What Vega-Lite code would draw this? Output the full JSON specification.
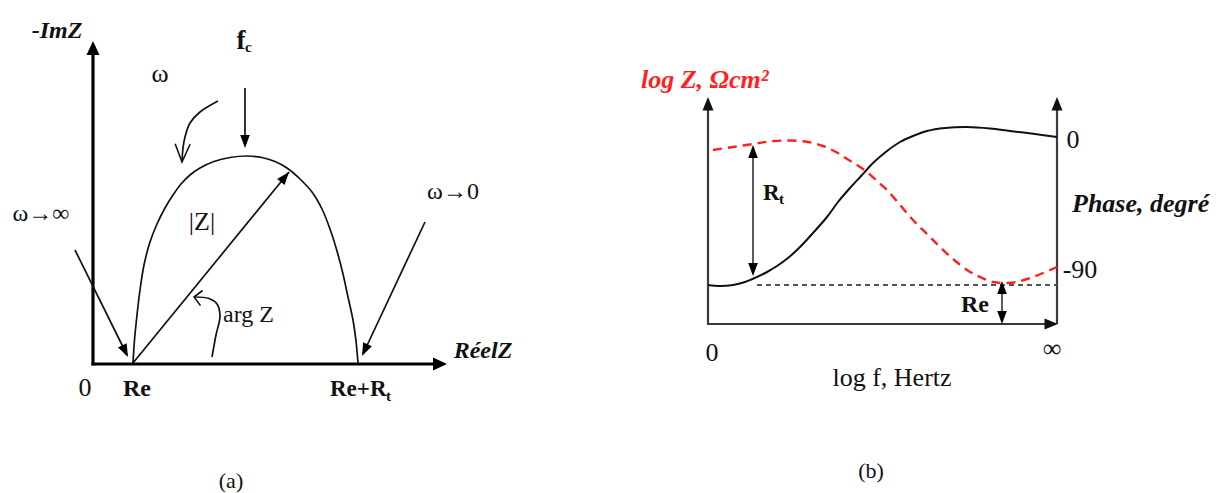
{
  "$schema": "https://vega.github.io/schema/vega-lite/v6.json",
  "width": 1230,
  "height": 493,
  "autosize": {"type": "fit", "contains": "padding"},
  "padding": 0,
  "background": "white",
  "config": {"view": {"stroke": null}, "text": {"font": "Liberation Serif"}},
  "datasets": {
    "axesA": [
      {"seg": "imag", "i": 0, "x": 93, "y": 365.5},
      {"seg": "imag", "i": 1, "x": 93, "y": 55},
      {"seg": "real", "i": 0, "x": 91.5, "y": 364},
      {"seg": "real", "i": 1, "x": 434, "y": 364}
    ],
    "inkA": [
      {"seg": "arc", "i": 0, "x": 133, "y": 363},
      {"seg": "arc", "i": 1, "x": 134.5, "y": 340},
      {"seg": "arc", "i": 2, "x": 137, "y": 315},
      {"seg": "arc", "i": 3, "x": 140, "y": 290},
      {"seg": "arc", "i": 4, "x": 144, "y": 265},
      {"seg": "arc", "i": 5, "x": 150, "y": 242},
      {"seg": "arc", "i": 6, "x": 157, "y": 224},
      {"seg": "arc", "i": 7, "x": 165, "y": 208},
      {"seg": "arc", "i": 8, "x": 173, "y": 195},
      {"seg": "arc", "i": 9, "x": 181, "y": 184},
      {"seg": "arc", "i": 10, "x": 190, "y": 175},
      {"seg": "arc", "i": 11, "x": 200, "y": 168},
      {"seg": "arc", "i": 12, "x": 214, "y": 161.5},
      {"seg": "arc", "i": 13, "x": 230, "y": 157.5},
      {"seg": "arc", "i": 14, "x": 247, "y": 156},
      {"seg": "arc", "i": 15, "x": 262, "y": 157.5},
      {"seg": "arc", "i": 16, "x": 275, "y": 161.5},
      {"seg": "arc", "i": 17, "x": 287, "y": 168},
      {"seg": "arc", "i": 18, "x": 300, "y": 179},
      {"seg": "arc", "i": 19, "x": 312, "y": 192},
      {"seg": "arc", "i": 20, "x": 322, "y": 209},
      {"seg": "arc", "i": 21, "x": 330, "y": 229},
      {"seg": "arc", "i": 22, "x": 337, "y": 251},
      {"seg": "arc", "i": 23, "x": 343, "y": 274},
      {"seg": "arc", "i": 24, "x": 348, "y": 297},
      {"seg": "arc", "i": 25, "x": 353, "y": 320},
      {"seg": "arc", "i": 26, "x": 356, "y": 341},
      {"seg": "arc", "i": 27, "x": 358, "y": 363},
      {"seg": "modulus", "i": 0, "x": 133, "y": 363},
      {"seg": "modulus", "i": 1, "x": 289, "y": 172},
      {"seg": "fc", "i": 0, "x": 245, "y": 88},
      {"seg": "fc", "i": 1, "x": 245, "y": 146},
      {"seg": "wInf", "i": 0, "x": 75, "y": 250},
      {"seg": "wInf", "i": 1, "x": 127, "y": 355},
      {"seg": "wZero", "i": 0, "x": 425, "y": 222},
      {"seg": "wZero", "i": 1, "x": 363, "y": 354},
      {"seg": "wTurn", "i": 0, "x": 218, "y": 101},
      {"seg": "wTurn", "i": 1, "x": 200, "y": 112},
      {"seg": "wTurn", "i": 2, "x": 190, "y": 123},
      {"seg": "wTurn", "i": 3, "x": 185, "y": 137},
      {"seg": "wTurn", "i": 4, "x": 183, "y": 148},
      {"seg": "wTurn", "i": 5, "x": 182, "y": 162},
      {"seg": "arg", "i": 0, "x": 212, "y": 357},
      {"seg": "arg", "i": 1, "x": 216, "y": 335},
      {"seg": "arg", "i": 2, "x": 220, "y": 316},
      {"seg": "arg", "i": 3, "x": 217, "y": 304},
      {"seg": "arg", "i": 4, "x": 209, "y": 298.5},
      {"seg": "arg", "i": 5, "x": 194, "y": 297}
    ],
    "axesB": [
      {"seg": "left", "i": 0, "x": 708, "y": 324},
      {"seg": "left", "i": 1, "x": 708, "y": 109},
      {"seg": "right", "i": 0, "x": 1057, "y": 324},
      {"seg": "right", "i": 1, "x": 1057, "y": 109},
      {"seg": "bottom", "i": 0, "x": 707, "y": 324},
      {"seg": "bottom", "i": 1, "x": 1046, "y": 324}
    ],
    "shaftsB": [
      {"seg": "Rt", "i": 0, "x": 753, "y": 150},
      {"seg": "Rt", "i": 1, "x": 753, "y": 271},
      {"seg": "Re", "i": 0, "x": 1002, "y": 286},
      {"seg": "Re", "i": 1, "x": 1002, "y": 319}
    ],
    "levelB": [
      {"i": 0, "x": 757, "y": 285},
      {"i": 1, "x": 1057, "y": 285}
    ],
    "logZ": [
      {"i": 0, "x": 713, "y": 150},
      {"i": 1, "x": 733, "y": 147},
      {"i": 2, "x": 753, "y": 144},
      {"i": 3, "x": 770, "y": 141.5},
      {"i": 4, "x": 790, "y": 140.5},
      {"i": 5, "x": 808, "y": 142},
      {"i": 6, "x": 823, "y": 146},
      {"i": 7, "x": 836, "y": 152},
      {"i": 8, "x": 847, "y": 159},
      {"i": 9, "x": 857, "y": 165},
      {"i": 10, "x": 867, "y": 172},
      {"i": 11, "x": 877, "y": 181},
      {"i": 12, "x": 887, "y": 190},
      {"i": 13, "x": 900, "y": 205},
      {"i": 14, "x": 913, "y": 220},
      {"i": 15, "x": 927, "y": 234},
      {"i": 16, "x": 940, "y": 247},
      {"i": 17, "x": 953, "y": 259},
      {"i": 18, "x": 967, "y": 270},
      {"i": 19, "x": 980, "y": 277},
      {"i": 20, "x": 993, "y": 282},
      {"i": 21, "x": 1005, "y": 283},
      {"i": 22, "x": 1017, "y": 282},
      {"i": 23, "x": 1030, "y": 278},
      {"i": 24, "x": 1043, "y": 273},
      {"i": 25, "x": 1057, "y": 267}
    ],
    "phase": [
      {"i": 0, "x": 708, "y": 285},
      {"i": 1, "x": 720, "y": 286},
      {"i": 2, "x": 733, "y": 285},
      {"i": 3, "x": 745, "y": 282},
      {"i": 4, "x": 757, "y": 277},
      {"i": 5, "x": 767, "y": 272},
      {"i": 6, "x": 777, "y": 266},
      {"i": 7, "x": 788, "y": 258},
      {"i": 8, "x": 800, "y": 247},
      {"i": 9, "x": 813, "y": 233},
      {"i": 10, "x": 827, "y": 217},
      {"i": 11, "x": 838, "y": 202},
      {"i": 12, "x": 850, "y": 188},
      {"i": 13, "x": 862, "y": 175},
      {"i": 14, "x": 873, "y": 163},
      {"i": 15, "x": 887, "y": 151},
      {"i": 16, "x": 900, "y": 142},
      {"i": 17, "x": 913, "y": 136},
      {"i": 18, "x": 927, "y": 131},
      {"i": 19, "x": 945, "y": 128},
      {"i": 20, "x": 967, "y": 127},
      {"i": 21, "x": 990, "y": 128.5},
      {"i": 22, "x": 1010, "y": 131},
      {"i": 23, "x": 1035, "y": 134},
      {"i": 24, "x": 1057, "y": 137}
    ],
    "heads": [
      {"kind": "big", "x": 93, "y": 41, "a": 0},
      {"kind": "big", "x": 447, "y": 364, "a": 90},
      {"kind": "small", "x": 245, "y": 148, "a": 180},
      {"kind": "small", "x": 289, "y": 172, "a": 39},
      {"kind": "small", "x": 128, "y": 357, "a": 154},
      {"kind": "small", "x": 362, "y": 356, "a": 205},
      {"kind": "axis", "x": 708, "y": 97, "a": 0},
      {"kind": "axis", "x": 1057, "y": 97, "a": 0},
      {"kind": "axis", "x": 1058, "y": 324, "a": 90},
      {"kind": "small", "x": 753, "y": 145, "a": 0},
      {"kind": "small", "x": 753, "y": 276, "a": 180},
      {"kind": "small", "x": 1002, "y": 281, "a": 0},
      {"kind": "small", "x": 1002, "y": 324, "a": 180}
    ],
    "openHeads": [
      {"kind": "long", "x": 182, "y": 162, "a": 182},
      {"kind": "short", "x": 194, "y": 297, "a": 278}
    ],
    "txtBoldItalic": [
      {"t": "-ImZ", "x": 57, "y": 38},
      {"t": "RéelZ", "x": 483, "y": 358}
    ],
    "txtBold": [
      {"t": "Re", "x": 137, "y": 396},
      {"t": "Re", "x": 975, "y": 312}
    ],
    "txtBoldLeft": [
      {"t": "Re+R", "x": 330, "y": 396},
      {"t": "R", "x": 763, "y": 200}
    ],
    "txtSub": [
      {"t": "t", "x": 386, "y": 401},
      {"t": "t", "x": 779, "y": 204},
      {"t": "c", "x": 245, "y": 52}
    ],
    "txtF": [
      {"t": "f", "x": 241, "y": 49}
    ],
    "txtLarge": [
      {"t": "0", "x": 85, "y": 396},
      {"t": "0", "x": 1073, "y": 148},
      {"t": "-90", "x": 1080, "y": 278},
      {"t": "∞", "x": 1052, "y": 357},
      {"t": "log f, Hertz", "x": 892, "y": 386}
    ],
    "txtRegular": [
      {"t": "ω", "x": 160, "y": 82},
      {"t": "|Z|", "x": 202, "y": 230},
      {"t": "0", "x": 712, "y": 361}
    ],
    "txtLimits": [
      {"t": "ω→∞", "x": 41, "y": 221},
      {"t": "ω→0", "x": 453, "y": 199}
    ],
    "txtArg": [
      {"t": "arg Z", "x": 223, "y": 322}
    ],
    "txtPhase": [
      {"t": "Phase, degré", "x": 1072, "y": 212}
    ],
    "txtLogZ": [
      {"t": "log Z, Ωcm²", "x": 641, "y": 88}
    ],
    "txtCaption": [
      {"t": "(a)", "x": 231, "y": 488},
      {"t": "(b)", "x": 871, "y": 478}
    ]
  },
  "encoding": {
    "x": {"field": "x", "type": "quantitative", "scale": {"domain": [0, 1230], "nice": false, "zero": false}, "axis": null},
    "y": {"field": "y", "type": "quantitative", "scale": {"domain": [0, 493], "reverse": true, "nice": false, "zero": false}, "axis": null}
  },
  "layer": [
    {
      "data": {"name": "axesA"},
      "mark": {"type": "line", "stroke": "#000000", "strokeWidth": 3.2, "strokeCap": "butt"},
      "encoding": {"detail": {"field": "seg"}, "order": {"field": "i", "type": "quantitative"}}
    },
    {
      "data": {"name": "inkA"},
      "mark": {"type": "line", "stroke": "#111111", "strokeWidth": 1.7, "interpolate": "catmull-rom"},
      "encoding": {"detail": {"field": "seg"}, "order": {"field": "i", "type": "quantitative"}}
    },
    {
      "data": {"name": "axesB"},
      "mark": {"type": "line", "stroke": "#3a3a3a", "strokeWidth": 2.2, "strokeCap": "butt"},
      "encoding": {"detail": {"field": "seg"}, "order": {"field": "i", "type": "quantitative"}}
    },
    {
      "data": {"name": "shaftsB"},
      "mark": {"type": "line", "stroke": "#333333", "strokeWidth": 1.6},
      "encoding": {"detail": {"field": "seg"}, "order": {"field": "i", "type": "quantitative"}}
    },
    {
      "data": {"name": "levelB"},
      "mark": {"type": "line", "stroke": "#555555", "strokeWidth": 2, "strokeDash": [5, 4]},
      "encoding": {"order": {"field": "i", "type": "quantitative"}}
    },
    {
      "data": {"name": "phase"},
      "mark": {"type": "line", "stroke": "#111111", "strokeWidth": 2, "interpolate": "catmull-rom"},
      "encoding": {"order": {"field": "i", "type": "quantitative"}}
    },
    {
      "data": {"name": "logZ"},
      "mark": {"type": "line", "stroke": "#ff1f1f", "strokeWidth": 2.4, "strokeDash": [9, 6], "interpolate": "catmull-rom"},
      "encoding": {"order": {"field": "i", "type": "quantitative"}}
    },
    {
      "data": {"name": "heads"},
      "transform": [{"filter": "datum.kind === 'big'"}],
      "mark": {"type": "point", "shape": "M0,0L0.65,1.4L-0.65,1.4Z", "size": 400, "filled": true, "fill": "#000000", "strokeWidth": 0, "opacity": 1},
      "encoding": {"angle": {"field": "a", "type": "quantitative", "scale": null}}
    },
    {
      "data": {"name": "heads"},
      "transform": [{"filter": "datum.kind === 'axis'"}],
      "mark": {"type": "point", "shape": "M0,0L0.55,1.35L-0.55,1.35Z", "size": 400, "filled": true, "fill": "#111111", "strokeWidth": 0, "opacity": 1},
      "encoding": {"angle": {"field": "a", "type": "quantitative", "scale": null}}
    },
    {
      "data": {"name": "heads"},
      "transform": [{"filter": "datum.kind === 'small'"}],
      "mark": {"type": "point", "shape": "M0,0L0.48,1.3L-0.48,1.3Z", "size": 400, "filled": true, "fill": "#000000", "strokeWidth": 0, "opacity": 1},
      "encoding": {"angle": {"field": "a", "type": "quantitative", "scale": null}}
    },
    {
      "data": {"name": "openHeads"},
      "transform": [{"filter": "datum.kind === 'long'"}],
      "mark": {"type": "point", "shape": "M-0.5,1.2L0,0L0.5,1.2", "size": 900, "filled": false, "stroke": "#111111", "strokeWidth": 1.6, "opacity": 1},
      "encoding": {"angle": {"field": "a", "type": "quantitative", "scale": null}}
    },
    {
      "data": {"name": "openHeads"},
      "transform": [{"filter": "datum.kind === 'short'"}],
      "mark": {"type": "point", "shape": "M-0.9,0.9L0,0L0.9,0.9", "size": 289, "filled": false, "stroke": "#111111", "strokeWidth": 1.6, "opacity": 1},
      "encoding": {"angle": {"field": "a", "type": "quantitative", "scale": null}}
    },
    {
      "data": {"name": "txtBoldItalic"},
      "mark": {"type": "text", "fontSize": 24, "fontWeight": "bold", "fontStyle": "italic", "align": "center", "baseline": "alphabetic", "color": "#111111"},
      "encoding": {"text": {"field": "t"}}
    },
    {
      "data": {"name": "txtBold"},
      "mark": {"type": "text", "fontSize": 24, "fontWeight": "bold", "align": "center", "baseline": "alphabetic", "color": "#111111"},
      "encoding": {"text": {"field": "t"}}
    },
    {
      "data": {"name": "txtBoldLeft"},
      "mark": {"type": "text", "fontSize": 23, "fontWeight": "bold", "align": "left", "baseline": "alphabetic", "color": "#111111"},
      "encoding": {"text": {"field": "t"}}
    },
    {
      "data": {"name": "txtSub"},
      "mark": {"type": "text", "fontSize": 15, "fontWeight": "bold", "align": "left", "baseline": "alphabetic", "color": "#111111"},
      "encoding": {"text": {"field": "t"}}
    },
    {
      "data": {"name": "txtF"},
      "mark": {"type": "text", "fontSize": 27, "fontWeight": "bold", "align": "center", "baseline": "alphabetic", "color": "#111111"},
      "encoding": {"text": {"field": "t"}}
    },
    {
      "data": {"name": "txtLarge"},
      "mark": {"type": "text", "fontSize": 26, "align": "center", "baseline": "alphabetic", "color": "#111111"},
      "encoding": {"text": {"field": "t"}}
    },
    {
      "data": {"name": "txtRegular"},
      "mark": {"type": "text", "fontSize": 26, "align": "center", "baseline": "alphabetic", "color": "#111111"},
      "encoding": {"text": {"field": "t"}}
    },
    {
      "data": {"name": "txtLimits"},
      "mark": {"type": "text", "fontSize": 24, "align": "center", "baseline": "alphabetic", "color": "#111111"},
      "encoding": {"text": {"field": "t"}}
    },
    {
      "data": {"name": "txtArg"},
      "mark": {"type": "text", "fontSize": 24, "align": "left", "baseline": "alphabetic", "color": "#111111"},
      "encoding": {"text": {"field": "t"}}
    },
    {
      "data": {"name": "txtPhase"},
      "mark": {"type": "text", "fontSize": 26, "fontWeight": "bold", "fontStyle": "italic", "align": "left", "baseline": "alphabetic", "color": "#111111"},
      "encoding": {"text": {"field": "t"}}
    },
    {
      "data": {"name": "txtLogZ"},
      "mark": {"type": "text", "fontSize": 26, "fontWeight": "bold", "fontStyle": "italic", "align": "left", "baseline": "alphabetic", "color": "#ff1f1f"},
      "encoding": {"text": {"field": "t"}}
    },
    {
      "data": {"name": "txtCaption"},
      "mark": {"type": "text", "fontSize": 22, "align": "center", "baseline": "alphabetic", "color": "#111111"},
      "encoding": {"text": {"field": "t"}}
    }
  ]
}
